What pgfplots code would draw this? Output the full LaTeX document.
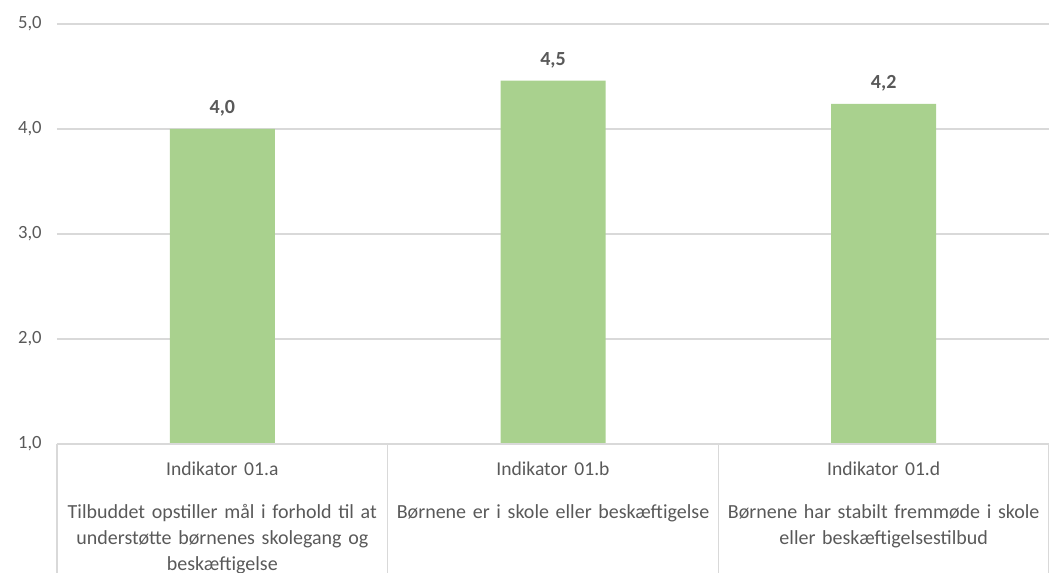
\documentclass[border=0pt]{standalone}
\usepackage{pgfplots}
\pgfplotsset{compat=1.18}
\usepackage{fontspec}
\setmainfont{Carlito}[WordSpace=0.7]
\definecolor{barc}{HTML}{A9D18E}
\definecolor{txt}{HTML}{595959}
\definecolor{gridc}{HTML}{D9D9D9}
\newcommand{\ind}[1]{{\fontsize{14.7}{19.5}\selectfont #1}}

\begin{document}
\begin{tikzpicture}
\begin{axis}[
    name=ax,
    scale only axis,
    clip=false,
    width=744pt, height=315pt,
    xmin=-0.5, xmax=2.5,
    ymin=1, ymax=5,
    ytick={1,2,3,4,5},
    xtick={0,1,2},
    xticklabels={
        {\ind{Indikator 01.a}\\[12pt]Tilbuddet opstiller mål i forhold til at\\understøtte børnenes skolegang og\\beskæftigelse},
        {\ind{Indikator 01.b}\\[12pt]Børnene er i skole eller beskæftigelse},
        {\ind{Indikator 01.d}\\[12pt]Børnene har stabilt fremmøde i skole\\eller beskæftigelsestilbud}},
    xticklabel style={text width=250pt, align=center, font=\fontsize{15}{19.8}\selectfont, text=txt, yshift=-10pt},
    yticklabel style={font=\fontsize{14}{16}\selectfont, text=txt, xshift=-8pt},
    /pgf/number format/assume math mode=true,
    yticklabel={\pgfmathprintnumber[fixed, fixed zerofill, precision=1, use comma]{\tick}},
    major tick length=0pt,
    axis line style={draw=none},
    ymajorgrids=true,
    grid style={gridc, line width=0.9pt},
    ybar, bar width=78.75pt,
    nodes near coords,
    every node near coord/.append style={font=\bfseries\fontsize{15}{17}\selectfont, text=txt, yshift=6pt,
        /pgf/number format/.cd, fixed, fixed zerofill, precision=1, use comma},
]
\addplot[fill=barc, draw=none] coordinates {(0,4.00) (1,4.46) (2,4.24)};
\draw[gridc, line width=0.9pt] (axis cs:-0.5,1) -- (axis cs:2.5,1);
\draw[gridc, line width=0.9pt] (axis cs:-0.5,1) -- ++(0pt,-96.75pt);
\draw[gridc, line width=0.9pt] (axis cs:0.5,1) -- ++(0pt,-96.75pt);
\draw[gridc, line width=0.9pt] (axis cs:1.5,1) -- ++(0pt,-96.75pt);
\draw[gridc, line width=0.9pt] (axis cs:2.5,1) -- ++(0pt,-96.75pt);
\end{axis}
\pgfresetboundingbox
\useasboundingbox ([xshift=-42.75pt, yshift=-96.75pt]ax.south west) rectangle ([yshift=18pt]ax.north east);
\end{tikzpicture}
\end{document}
